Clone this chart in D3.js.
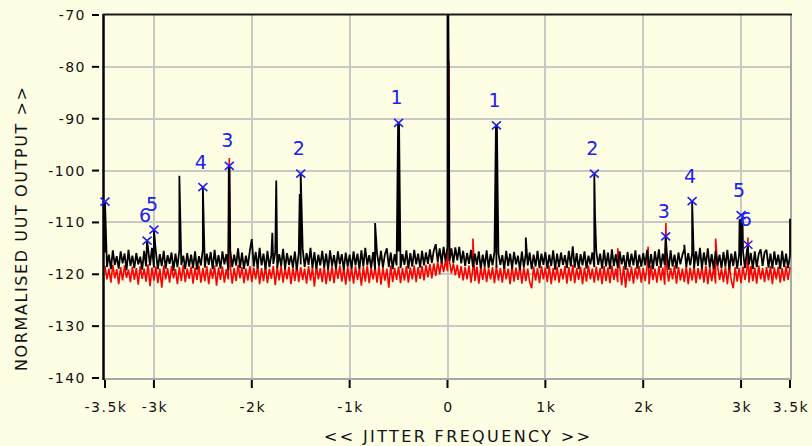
<!DOCTYPE html>
<html>
<head>
<meta charset="utf-8">
<script src="https://cdn.jsdelivr.net/npm/d3@7"></script>
<style>
  html, body { margin: 0; padding: 0; background: #FEFEE4; }
  svg { display: block; }
  text { font-family: "DejaVu Sans", sans-serif; }
</style>
</head>
<body>
<svg id="chart" width="812" height="446"></svg>
<script>
// Jitter spectrum: two traces (black = measured, red = reference), 20 Hz bins
const freqStart = -3500;
const freqStep = 20;

const blackFloor = [
  -115.8,-118.6,-116.2,-119.0,-115.4,-118.2,-116.5,-118.9,-115.6,-117.9,-116.0,-119.2,-115.3,-118.4,-116.4,-118.8,-115.9,-118.1,-116.6,-119.1,-115.5,-118.5,-115.0,-118.3,-114.9,
  -118.7,-115.7,-119.0,-116.1,-118.4,-115.5,-118.9,-116.3,-118.0,-115.8,-119.3,-116.0,-118.6,-115.4,-118.2,-116.4,-119.0,-115.9,-118.5,-116.2,-118.8,-115.6,-119.1,-116.5,-118.3,
  -115.2,-118.7,-116.0,-118.2,-115.7,-119.0,-115.3,-118.5,-116.3,-118.9,-115.6,-118.1,-116.1,-119.2,-115.4,-118.6,-116.2,-118.3,-115.0,-118.8,-115.8,-119.0,-116.4,-118.4,-115.5,
  -113.2,-118.5,-115.7,-118.9,-114.9,-118.3,-116.0,-119.1,-115.5,-118.6,-116.3,-118.0,-115.8,-118.8,-116.1,-118.4,-115.1,-119.0,-115.9,-118.2,-116.4,-118.7,-115.6,-119.2,-115.9,
  -118.1,-115.1,-118.6,-115.9,-118.2,-114.9,-118.8,-115.7,-119.0,-116.2,-118.3,-115.5,-118.7,-116.0,-119.1,-115.4,-118.4,-116.3,-118.9,-115.6,-118.1,-116.1,-119.2,-115.8,-118.5,
  -116.2,-118.9,-115.6,-118.3,-116.0,-119.0,-115.4,-118.5,-114.9,-118.2,-116.3,-118.8,-115.7,-119.1,-116.0,-118.4,-115.5,-118.7,-116.2,-115.0,-118.6,-115.8,-119.0,-116.1,-118.3,
  -115.6,-118.8,-116.1,-118.2,-115.4,-118.9,-115.9,-118.5,-115.3,-118.1,-116.0,-118.7,-115.5,-118.3,-115.8,-118.0,-115.2,-117.8,-115.4,-114.2,-117.6,-115.0,-117.9,-114.7,-117.5,
  -114.6,-117.4,-115.0,-117.8,-114.8,-117.3,-114.7,-117.9,-115.5,-118.4,-115.9,-118.0,-115.3,-118.6,-116.0,-118.2,-115.6,-118.9,-116.2,-118.5,-115.4,-118.8,-116.1,-118.3,-115.7,
  -118.7,-115.9,-118.2,-116.3,-119.0,-115.5,-118.4,-116.0,-118.9,-115.7,-118.1,-116.4,-119.2,-115.6,-118.6,-116.1,-118.3,-115.8,-119.0,-116.2,-118.5,-115.5,-118.8,-116.0,-118.2,
  -115.7,-118.9,-116.2,-118.4,-115.4,-119.1,-116.0,-118.6,-115.8,-118.2,-116.3,-118.8,-115.5,-118.5,-114.6,-118.7,-115.9,-119.0,-116.1,-118.3,-115.6,-118.9,-116.4,-118.1,-115.8,
  -118.6,-115.5,-118.2,-116.0,-118.9,-115.3,-118.5,-115.8,-119.0,-115.2,-118.4,-116.1,-118.8,-115.6,-118.1,-116.3,-119.1,-115.7,-118.6,-116.0,-118.3,-115.4,-118.9,-116.2,-118.5,
  -115.9,-118.3,-115.3,-118.8,-116.1,-119.0,-115.6,-118.4,-115.2,-118.7,-116.0,-118.2,-115.7,-119.1,-115.4,-118.5,-116.2,-118.9,-115.8,-118.1,-116.3,-115.1,-118.6,-115.9,-118.3,
  -116.0,-118.8,-115.6,-118.4,-114.9,-118.9,-115.8,-118.2,-115.0,-118.7,-116.1,-119.0,-115.5,-118.3,-116.2,-118.8,-115.7,-118.5,-115.3,-119.1,-116.0,-118.4,-115.6,-118.9,-116.2,
  -118.3,-115.7,-118.8,-115.4,-118.1,-115.9,-119.0,-115.6,-118.6,-116.1,-115.2,-118.4,-115.8,-115.3,-118.7,-116.0,-118.9,-115.6,-118.2,-116.2,-119.0,-115.5,-118.6,-116.0,-118.8,
  -116.4
];

const redFloor = [
  -118.4,-121.0,-118.9,-121.6,-118.2,-120.8,-119.0,-121.9,-118.6,-121.2,-118.3,-120.7,-119.1,-121.5,-118.5,-121.1,-118.8,-122.0,-118.4,-120.9,-118.9,-121.4,-118.1,-122.3,-118.7,
  -121.2,-118.5,-121.7,-118.9,-122.6,-118.3,-121.0,-118.8,-121.6,-118.4,-120.8,-119.0,-121.9,-118.6,-121.3,-118.2,-121.5,-118.9,-120.9,-118.5,-121.8,-118.7,-121.1,-118.3,-121.6,
  -118.8,-121.3,-118.4,-121.9,-118.9,-120.9,-118.3,-122.2,-118.7,-121.1,-118.5,-121.6,-119.0,-121.0,-118.4,-121.8,-118.8,-121.3,-118.2,-120.8,-118.6,-121.7,-118.9,-121.2,-118.4,
  -121.5,-118.7,-121.0,-118.3,-121.9,-118.8,-121.3,-118.5,-121.7,-118.9,-120.9,-118.4,-122.1,-118.6,-121.2,-118.3,-121.6,-118.8,-121.0,-118.5,-121.9,-118.7,-121.3,-118.2,-121.5,
  -118.6,-121.1,-118.9,-121.8,-118.4,-121.2,-118.7,-122.4,-118.3,-121.0,-118.8,-121.5,-118.5,-121.9,-118.9,-121.3,-118.4,-121.7,-118.6,-120.9,-118.3,-121.4,-118.8,-122.0,-118.5,
  -121.3,-118.7,-121.8,-118.4,-121.1,-118.9,-122.2,-118.5,-121.4,-118.3,-121.7,-118.8,-121.0,-118.6,-121.6,-118.4,-122.0,-118.7,-121.2,-118.9,-122.6,-118.3,-121.5,-118.8,-121.1,
  -118.5,-121.7,-118.8,-121.2,-118.4,-121.6,-118.7,-121.0,-118.3,-121.5,-118.6,-120.9,-118.4,-121.2,-118.2,-120.6,-118.0,-120.8,-117.9,-120.3,-117.6,-120.0,-117.4,-119.6,-117.3,
  -119.4,-117.5,-119.8,-117.9,-120.2,-118.2,-120.7,-118.4,-121.2,-118.6,-121.0,-118.3,-121.6,-118.8,-121.3,-118.5,-121.8,-118.7,-121.1,-118.4,-121.5,-118.9,-121.0,-118.6,-121.7,
  -118.4,-121.2,-118.8,-121.6,-118.5,-121.0,-118.9,-121.9,-118.3,-121.4,-118.7,-121.1,-118.4,-121.8,-118.6,-121.3,-118.9,-121.5,-122.7,-118.5,-121.2,-118.8,-121.7,-118.4,-121.0,
  -118.7,-121.5,-118.3,-121.9,-118.8,-121.2,-118.5,-121.6,-118.9,-121.0,-118.4,-121.8,-118.6,-121.3,-118.2,-121.7,-118.8,-121.1,-118.5,-121.9,-118.7,-121.4,-118.3,-121.0,-118.9,
  -121.6,-118.5,-121.2,-118.8,-121.9,-118.4,-121.3,-118.7,-121.7,-118.3,-121.1,-118.9,-121.5,-118.6,-122.1,-118.4,-122.6,-118.8,-121.3,-118.5,-121.8,-118.7,-121.0,-118.4,-121.6,
  -118.8,-121.3,-118.5,-121.9,-118.3,-121.1,-118.9,-121.6,-118.4,-121.2,-118.7,-122.0,-118.5,-121.4,-118.8,-121.0,-118.3,-121.8,-118.6,-121.2,-118.9,-121.5,-118.4,-121.9,-118.7,
  -121.2,-118.4,-121.7,-118.8,-121.0,-118.5,-121.6,-118.3,-121.9,-118.7,-121.3,-118.6,-121.8,-118.4,-121.1,-118.9,-121.5,-118.5,-121.9,-118.3,-121.2,-122.7,-118.6,-121.4,-118.8,
  -121.7,-118.5,-121.1,-118.9,-121.6,-118.4,-121.3,-118.7,-121.8,-118.3,-121.0,-118.8,-121.5,-118.6,-121.2,-118.4,-121.9,-118.7,-121.0,-118.5,-121.6,-118.8,-121.3,-118.4,-121.1,
  -118.6
];

// Discrete spectral lines [frequency Hz, level dB]
const blackSpikes = [
  [-3500, -106.0], [-3070, -113.5], [-3000, -111.4], [-2740, -101.0],
  [-2500, -103.2], [-2235, -99.1], [-2228, -99.3], [-1790, -112.0],
  [-1750, -101.9], [-1510, -104.5], [-1500, -100.6], [-740, -110.1],
  [-505, -90.9], [-500, -90.8], [-495, -91.0], [0, -60.0], [5, -60.0],
  [12, -79.3], [495, -91.3], [500, -91.3], [505, -91.5], [800, -112.9],
  [1500, -100.6], [1508, -108.9], [2230, -112.7], [2420, -114.3],
  [2500, -105.9], [2985, -109.4], [3000, -109.3], [3015, -109.6],
  [3070, -114.7], [3500, -109.3]
];
const redSpikes = [
  [-2230, -97.6], [15, -79.0], [260, -113.1], [1740, -115.0],
  [2050, -114.7], [2232, -110.1], [2740, -113.1], [3070, -112.9]
];

// Cursor markers on the harmonic lines
const markerFreq  = [-3500, -3070, -3000, -2500, -2230, -1500, -500, 500, 1500, 2230, 2500, 3000, 3070];
const markerLevel = [-106.0, -113.5, -111.4, -103.2, -99.1, -100.6, -90.8, -91.3, -100.6, -112.7, -105.9, -108.6, -114.3];
const markerLabel = ["", "6", "5", "4", "3", "2", "1", "1", "2", "3", "4", "5", "6"];

const yTicks = [-70, -80, -90, -100, -110, -120, -130, -140];
const xTicks = [-3500, -3000, -2000, -1000, 0, 1000, 2000, 3000, 3500];
const xTickLabels = ["-3.5k", "-3k", "-2k", "-1k", "0", "1k", "2k", "3k", "3.5k"];
const xGrid = [-3000, -2000, -1000, 0, 1000, 2000, 3000];
const yGrid = [-80, -90, -100, -110, -120, -130];

const svg = d3.select("#chart");
const pLeft = 104, pRight = 791, pTop = 15, pBottom = 378;

const x = d3.scaleLinear().domain([-3500, 3500]).range([pLeft + 1, pRight - 1]);
const y = d3.scaleLinear().domain([-140, -70]).range([pBottom, pTop]);

svg.append("rect").attr("width", 812).attr("height", 446).attr("fill", "#FEFEE4");

svg.append("defs").append("clipPath").attr("id", "plotClip")
  .append("rect").attr("x", pLeft).attr("y", pTop).attr("width", pRight - pLeft).attr("height", pBottom - pTop);

// grid
const grid = svg.append("g").attr("stroke", "#C9C9C4").attr("stroke-width", 2).attr("shape-rendering", "crispEdges");
grid.selectAll(".gx").data(xGrid).join("line")
  .attr("x1", d => Math.round(x(d))).attr("x2", d => Math.round(x(d)))
  .attr("y1", pTop).attr("y2", pBottom);
grid.selectAll(".gy").data(yGrid).join("line")
  .attr("x1", pLeft).attr("x2", pRight)
  .attr("y1", d => Math.round(y(d))).attr("y2", d => Math.round(y(d)));

// plot frame: right & bottom grey, left & top black
svg.append("line").attr("x1", pRight).attr("x2", pRight).attr("y1", pTop).attr("y2", pBottom + 1)
  .attr("stroke", "#A8A8A8").attr("stroke-width", 2).attr("shape-rendering", "crispEdges");
svg.append("line").attr("x1", pLeft).attr("x2", pRight + 1).attr("y1", pBottom + 1).attr("y2", pBottom + 1)
  .attr("stroke", "#A8A8A8").attr("stroke-width", 2).attr("shape-rendering", "crispEdges");

function buildTrace(floor, spikes) {
  const pts = floor.map((v, i) => ({ f: freqStart + i * freqStep, v, o: 0 }));
  spikes.forEach(([f, v]) => pts.push({ f, v, o: 1 }));
  pts.sort((a, b) => a.f - b.f || a.o - b.o);
  return pts;
}

const line = d3.line().x(d => x(d.f)).y(d => y(d.v));
const traces = svg.append("g").attr("clip-path", "url(#plotClip)")
  .attr("fill", "none").attr("stroke-linejoin", "bevel");
traces.append("path").datum(buildTrace(redFloor, redSpikes))
  .attr("d", line).attr("stroke", "#FF0000").attr("stroke-width", 1.6);
traces.append("path").datum(buildTrace(blackFloor, blackSpikes))
  .attr("d", line).attr("stroke", "#000000").attr("stroke-width", 1.8);

// left and top axis lines (black)
svg.append("line").attr("x1", pLeft - 0.5).attr("x2", pLeft - 0.5).attr("y1", pTop - 1).attr("y2", pBottom + 2)
  .attr("stroke", "#000").attr("stroke-width", 2.5);
svg.append("line").attr("x1", pLeft - 1).attr("x2", pRight + 1).attr("y1", pTop - 0.5).attr("y2", pTop - 0.5)
  .attr("stroke", "#1a1a1a").attr("stroke-width", 2);

// y axis ticks and labels
const yAxis = svg.append("g");
yAxis.selectAll("line").data(yTicks).join("line")
  .attr("x1", 92).attr("x2", 99)
  .attr("y1", d => y(d)).attr("y2", d => y(d))
  .attr("stroke", "#000").attr("stroke-width", 2);
yAxis.selectAll("text").data(yTicks).join("text")
  .attr("x", 86).attr("y", d => y(d) + 5)
  .attr("text-anchor", "end").attr("font-size", 14).attr("letter-spacing", 1.5)
  .attr("fill", "#111").text(d => d);

// x axis ticks and labels
const xAxis = svg.append("g");
xAxis.selectAll("line").data(xTicks).join("line")
  .attr("x1", d => x(d)).attr("x2", d => x(d))
  .attr("y1", 380).attr("y2", 388)
  .attr("stroke", "#000").attr("stroke-width", 2);
xAxis.selectAll("text").data(xTicks).join("text")
  .attr("x", d => x(d) + 1).attr("y", 412)
  .attr("text-anchor", "middle").attr("font-size", 14).attr("letter-spacing", 1.5)
  .attr("fill", "#111").text((d, i) => xTickLabels[i]);

// axis titles
svg.append("text").attr("x", 457).attr("y", 442).attr("text-anchor", "middle")
  .attr("font-size", 16).attr("fill", "#111")
  .attr("textLength", 266).attr("lengthAdjust", "spacing")
  .text("<< JITTER FREQUENCY >>");
svg.append("text").attr("transform", "translate(27,229) rotate(-90)").attr("text-anchor", "middle")
  .attr("font-size", 16).attr("fill", "#111")
  .attr("textLength", 284).attr("lengthAdjust", "spacing")
  .text("NORMALISED UUT OUTPUT >>");

// cursor markers with harmonic numbers
const markers = svg.append("g");
const mk = markerFreq.map((f, i) => ({ f, v: markerLevel[i], label: markerLabel[i] }));
markers.selectAll("path").data(mk).join("path")
  .attr("d", d => {
    const cx = x(d.f), cy = y(d.v);
    return `M${cx - 4.5},${cy - 4}L${cx + 4.5},${cy + 4}M${cx - 4.5},${cy + 4}L${cx + 4.5},${cy - 4}`;
  })
  .attr("stroke", "#2020F0").attr("stroke-width", 1.6).attr("fill", "none");
markers.selectAll("text").data(mk.filter(d => d.label)).join("text")
  .attr("x", d => x(d.f) - 2).attr("y", d => y(d.v) - 18.5)
  .attr("text-anchor", "middle").attr("font-size", 19)
  .attr("font-family", "'Liberation Sans', sans-serif").attr("fill", "#2020F0")
  .text(d => d.label);
</script>
</body>
</html>
